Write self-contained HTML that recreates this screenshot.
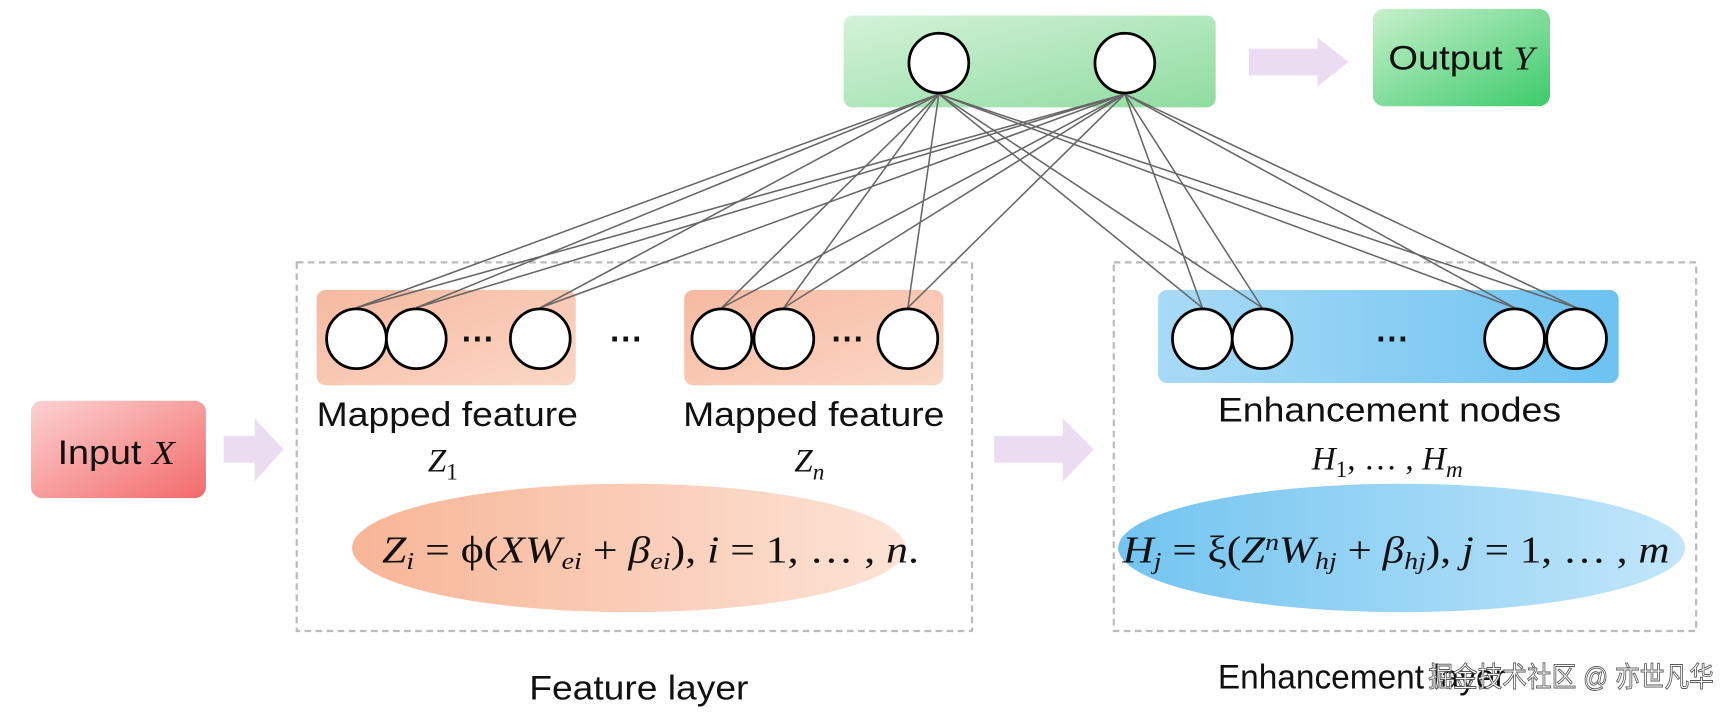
<!DOCTYPE html>
<html><head><meta charset="utf-8"><style>html,body{margin:0;padding:0;background:#fff}svg{display:block}</style></head>
<body>
<svg width="1736" height="714" viewBox="0 0 1568 645" preserveAspectRatio="none" xmlns="http://www.w3.org/2000/svg" font-family="Liberation Sans, sans-serif">
<defs>
<linearGradient id="g" x1="0" y1="0" x2="1" y2="1"><stop offset="0" stop-color="#d4f2d8"/><stop offset="1" stop-color="#8fdca0"/></linearGradient>
<linearGradient id="go" x1="0" y1="0" x2="1" y2="1"><stop offset="0" stop-color="#c8f0cc"/><stop offset="1" stop-color="#3ccb6a"/></linearGradient>
<linearGradient id="o" x1="0" y1="0" x2="1" y2="1"><stop offset="0" stop-color="#f6b9a0"/><stop offset="1" stop-color="#fbd7c6"/></linearGradient>
<linearGradient id="ob" x1="0" y1="0" x2="1" y2="0"><stop offset="0" stop-color="#f7b597"/><stop offset="1" stop-color="#fde3d6"/></linearGradient>
<linearGradient id="b" x1="0" y1="0" x2="1" y2="0"><stop offset="0" stop-color="#a8daf6"/><stop offset="1" stop-color="#6cc2f1"/></linearGradient>
<linearGradient id="bb" x1="0" y1="0" x2="1" y2="0"><stop offset="0" stop-color="#72c4f0"/><stop offset="1" stop-color="#c2e6fa"/></linearGradient>
<linearGradient id="r" x1="0" y1="0" x2="1" y2="1"><stop offset="0" stop-color="#fcd2d2"/><stop offset="1" stop-color="#f36a6a"/></linearGradient>
</defs>
<rect x="762" y="14" width="336" height="83" rx="8" fill="url(#g)"/>
<rect x="1240" y="8" width="160" height="88" rx="10" fill="url(#go)"/>
<text x="1254" y="63" font-size="31" textLength="132" lengthAdjust="spacingAndGlyphs" fill="#111">Output <tspan font-family="Liberation Serif, serif" font-style="italic">Y</tspan></text>
<polygon points="1128,44 1190,44 1190,34 1218,56 1190,78 1190,68 1128,68" fill="#ebdcf2"/>
<rect x="28" y="362" width="158" height="88" rx="10" fill="url(#r)"/>
<text x="52" y="419" font-size="31" textLength="106" lengthAdjust="spacingAndGlyphs" fill="#111">Input <tspan font-family="Liberation Serif, serif" font-style="italic">X</tspan></text>
<polygon points="202,394 230,394 230,378 256,406 230,435 230,418 202,418" fill="#ebdcf2"/>
<polygon points="898,394 960,394 960,378 988,406 960,435 960,418 898,418" fill="#ebdcf2"/>
<rect x="268" y="237" width="610" height="333" fill="none" stroke="#bbb" stroke-width="2" stroke-dasharray="6,4"/>
<rect x="1006" y="237" width="526" height="333" fill="none" stroke="#bbb" stroke-width="2" stroke-dasharray="6,4"/>
<rect x="286" y="262" width="234" height="86" rx="8" fill="url(#o)"/>
<rect x="618" y="262" width="234" height="86" rx="8" fill="url(#o)"/>
<rect x="1046" y="262" width="416" height="84" rx="8" fill="url(#b)"/>
<g stroke="#666" stroke-width="1.4">
<line x1="848" y1="85" x2="322" y2="278"/><line x1="848" y1="85" x2="376" y2="278"/><line x1="848" y1="85" x2="488" y2="278"/><line x1="848" y1="85" x2="652" y2="278"/><line x1="848" y1="85" x2="708" y2="278"/><line x1="848" y1="85" x2="820" y2="278"/><line x1="848" y1="85" x2="1086" y2="278"/><line x1="848" y1="85" x2="1140" y2="278"/><line x1="848" y1="85" x2="1368" y2="278"/><line x1="848" y1="85" x2="1424" y2="278"/>
<line x1="1016" y1="85" x2="322" y2="278"/><line x1="1016" y1="85" x2="376" y2="278"/><line x1="1016" y1="85" x2="488" y2="278"/><line x1="1016" y1="85" x2="652" y2="278"/><line x1="1016" y1="85" x2="708" y2="278"/><line x1="1016" y1="85" x2="820" y2="278"/><line x1="1016" y1="85" x2="1086" y2="278"/><line x1="1016" y1="85" x2="1140" y2="278"/><line x1="1016" y1="85" x2="1368" y2="278"/><line x1="1016" y1="85" x2="1424" y2="278"/>
</g>
<g fill="#fff" stroke="#000" stroke-width="2.5">
<circle cx="848" cy="57" r="27"/><circle cx="1016" cy="57" r="27"/>
<circle cx="322" cy="306" r="27"/><circle cx="376" cy="306" r="27"/><circle cx="488" cy="306" r="27"/>
<circle cx="652" cy="306" r="27"/><circle cx="708" cy="306" r="27"/><circle cx="820" cy="306" r="27"/>
<circle cx="1086" cy="306" r="27"/><circle cx="1140" cy="306" r="27"/><circle cx="1368" cy="306" r="27"/><circle cx="1424" cy="306" r="27"/>
</g>
<g font-size="30" font-weight="bold" text-anchor="middle" fill="#111">
<text x="432" y="316">···</text><text x="566" y="316">···</text><text x="766" y="316">···</text><text x="1258" y="316">···</text>
</g>
<g font-size="31" fill="#111" lengthAdjust="spacingAndGlyphs">
<text x="286" y="385" textLength="236" lengthAdjust="spacingAndGlyphs">Mapped feature</text>
<text x="617" y="385" textLength="236" lengthAdjust="spacingAndGlyphs">Mapped feature</text>
<text x="1100" y="381" textLength="310" lengthAdjust="spacingAndGlyphs">Enhancement nodes</text>
<text x="478" y="632" textLength="198" lengthAdjust="spacingAndGlyphs">Feature layer</text>
<text x="1100" y="622" textLength="260" lengthAdjust="spacingAndGlyphs">Enhancement layer</text>
</g>
<g font-family="Liberation Serif, serif" font-style="italic" font-size="30" text-anchor="middle" fill="#111">
<text x="400" y="426">Z<tspan font-size="21" dy="7" font-style="normal">1</tspan></text>
<text x="731" y="426">Z<tspan font-size="21" dy="7">n</tspan></text>
<text x="1253" y="424">H<tspan font-size="21" dy="7" font-style="normal">1</tspan><tspan dy="-7" font-style="normal">, … , </tspan>H<tspan font-size="21" dy="7">m</tspan></text>
</g>
<ellipse cx="568" cy="495" rx="250" ry="58" fill="url(#ob)"/>
<ellipse cx="1266" cy="495" rx="256" ry="58" fill="url(#bb)"/>
<text x="345" y="508" textLength="485" lengthAdjust="spacingAndGlyphs" font-family="Liberation Serif, serif" font-size="34" fill="#111"><tspan font-style="italic">Z<tspan font-size="22" dy="6">i</tspan></tspan><tspan dy="-6"> = ϕ(</tspan><tspan font-style="italic">XW<tspan font-size="22" dy="6">ei</tspan></tspan><tspan dy="-6"> + </tspan><tspan font-style="italic">β<tspan font-size="22" dy="6">ei</tspan></tspan><tspan dy="-6">), </tspan><tspan font-style="italic">i</tspan> = 1, … , <tspan font-style="italic">n</tspan>.</text>
<text x="1014" y="508" textLength="494" lengthAdjust="spacingAndGlyphs" font-family="Liberation Serif, serif" font-size="34" fill="#111"><tspan font-style="italic">H<tspan font-size="22" dy="6">j</tspan></tspan><tspan dy="-6"> = ξ(</tspan><tspan font-style="italic">Z<tspan font-size="22" dy="-11">n</tspan><tspan dy="11">W</tspan><tspan font-size="22" dy="6">hj</tspan></tspan><tspan dy="-6"> + </tspan><tspan font-style="italic">β<tspan font-size="22" dy="6">hj</tspan></tspan><tspan dy="-6">), </tspan><tspan font-style="italic">j</tspan> = 1, … , <tspan font-style="italic">m</tspan></text>
<text x="1290" y="620" textLength="258" lengthAdjust="spacingAndGlyphs" font-family="Liberation Sans, Noto Sans CJK SC, sans-serif" font-size="25" fill="#fff" stroke="#555" stroke-width="0.8">掘金技术社区 @ 亦世凡华</text>
</svg>
</body></html>
